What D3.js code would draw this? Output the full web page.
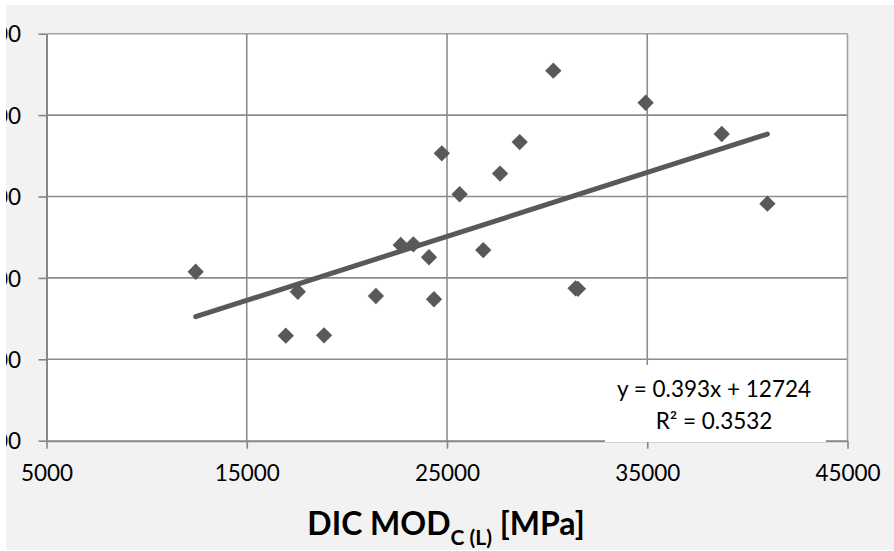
<!DOCTYPE html>
<html>
<head>
<meta charset="utf-8">
<script src="https://cdn.jsdelivr.net/npm/d3@7"></script>
<style>
  html, body { margin: 0; padding: 0; background: #ffffff; }
  svg { display: block; }
</style>
</head>
<body>
<svg id="chart" width="894" height="551"></svg>
<script>
// Measured moduli, MPa
const dicMod = [12450, 16950, 17550, 18860, 21450, 22690, 23320, 24100, 24350, 24740,
                25630, 26810, 27650, 28630, 30310, 31420, 31540, 34920, 38720, 41000];
const refMod = [20380, 16450, 19150, 16470, 18890, 22020, 22060, 21270, 18690, 27650,
                25140, 21710, 26410, 28340, 32730, 19360, 19330, 30760, 28840, 24560];

// Axis ticks
const xTicks = [5000, 15000, 25000, 35000, 45000];
const yTicks = [10000, 15000, 20000, 25000, 30000, 35000];

// Linear trend fit
const trendSlope = 0.393;
const trendIntercept = 12724;
const trendR2 = 0.3532;

const svg = d3.select("#chart");
const W = 894, H = 551;
const plot = { left: 46.5, right: 847.5, top: 33.7, bottom: 440.7 };
const font = "Lato, 'Open Sans', sans-serif";
const ink = "#595959";
const gridCol = "#8c8c8c";

const x = d3.scaleLinear().domain([5000, 45000]).range([plot.left, plot.right]);
const y = d3.scaleLinear().domain([10000, 35000]).range([plot.bottom, plot.top]);

// chart area background, clipped to its frame
svg.append("defs").append("clipPath").attr("id", "frame")
  .append("rect").attr("x", 6).attr("y", 5).attr("width", W - 6).attr("height", H - 6);

const root = svg.append("g").attr("clip-path", "url(#frame)");
root.append("rect").attr("x", 6).attr("y", 5).attr("width", W - 6).attr("height", H - 6)
  .attr("fill", "#f2f2f2");

// plot area
root.append("rect")
  .attr("x", plot.left).attr("y", plot.top)
  .attr("width", plot.right - plot.left).attr("height", plot.bottom - plot.top)
  .attr("fill", "#ffffff");

// gridlines
root.append("g").selectAll("line.h").data(yTicks.slice(1)).join("line")
  .attr("x1", plot.left).attr("x2", plot.right)
  .attr("y1", d => y(d)).attr("y2", d => y(d))
  .attr("stroke", d => d === 35000 ? "#a3a3a3" : gridCol).attr("stroke-width", 1.6);
root.append("g").selectAll("line.v").data(xTicks.slice(1)).join("line")
  .attr("y1", plot.top).attr("y2", plot.bottom)
  .attr("x1", d => x(d)).attr("x2", d => x(d))
  .attr("stroke", d => d === 45000 ? "#a3a3a3" : gridCol).attr("stroke-width", 1.6);

// axes
const yAxis = d3.axisLeft(y).tickValues(yTicks).tickSize(8).tickSizeOuter(0)
  .tickPadding(17.5).tickFormat(d3.format("d"));
const xAxis = d3.axisBottom(x).tickValues(xTicks).tickSize(8).tickSizeOuter(0)
  .tickPadding(16).tickFormat(d3.format("d"));

const gy = root.append("g").attr("transform", `translate(${plot.left},0)`).call(yAxis);
const gx = root.append("g").attr("transform", `translate(0,${plot.bottom})`).call(xAxis);
[gx, gy].forEach(g => {
  g.select(".domain").attr("stroke", "#868686").attr("stroke-width", 2);
  g.selectAll(".tick line").attr("stroke", "#868686").attr("stroke-width", 1.6);
  g.selectAll(".tick text").attr("fill", "#000").style("font-family", font).style("font-size", "22.5px");
});
gy.selectAll(".tick text").attr("dy", "0.36em");
gx.selectAll(".tick text").attr("dy", "0.71em");

// trend line over the data range
const [xmin, xmax] = d3.extent(dicMod);
const trend = d3.line().x(d => x(d)).y(d => y(trendSlope * d + trendIntercept));
root.append("path").datum([xmin, xmax]).attr("d", trend)
  .attr("fill", "none").attr("stroke", ink).attr("stroke-width", 5)
  .attr("stroke-linecap", "round");

// data points
const diamond = d3.symbol().type(d3.symbolDiamond2).size(170);
root.append("g").selectAll("path").data(dicMod.map((v, i) => [v, refMod[i]])).join("path")
  .attr("transform", d => `translate(${x(d[0])},${y(d[1])})`)
  .attr("d", diamond)
  .attr("fill", ink);

// equation label
const eq = root.append("g");
eq.append("rect").attr("x", 605).attr("y", 365).attr("width", 221).attr("height", 77)
  .attr("fill", "#ffffff");
eq.append("text").attr("x", 714).attr("y", 397).attr("text-anchor", "middle")
  .style("font-family", font).style("font-size", "22.5px").attr("fill", "#000")
  .text(`y = ${trendSlope}x + ${trendIntercept}`);
eq.append("text").attr("x", 714).attr("y", 429).attr("text-anchor", "middle")
  .style("font-family", font).style("font-size", "22.5px").attr("fill", "#000")
  .text(`R² = ${trendR2}`);

// x axis title
const title = root.append("text").attr("x", 446).attr("y", 535).attr("text-anchor", "middle")
  .style("font-family", font).style("font-weight", "bold").style("font-size", "32px")
  .attr("fill", "#000");
title.append("tspan").text("DIC MOD");
title.append("tspan").attr("dy", 10).style("font-size", "21px").text("C (L)");
title.append("tspan").attr("dy", -10).text(" [MPa]");
</script>
</body>
</html>
